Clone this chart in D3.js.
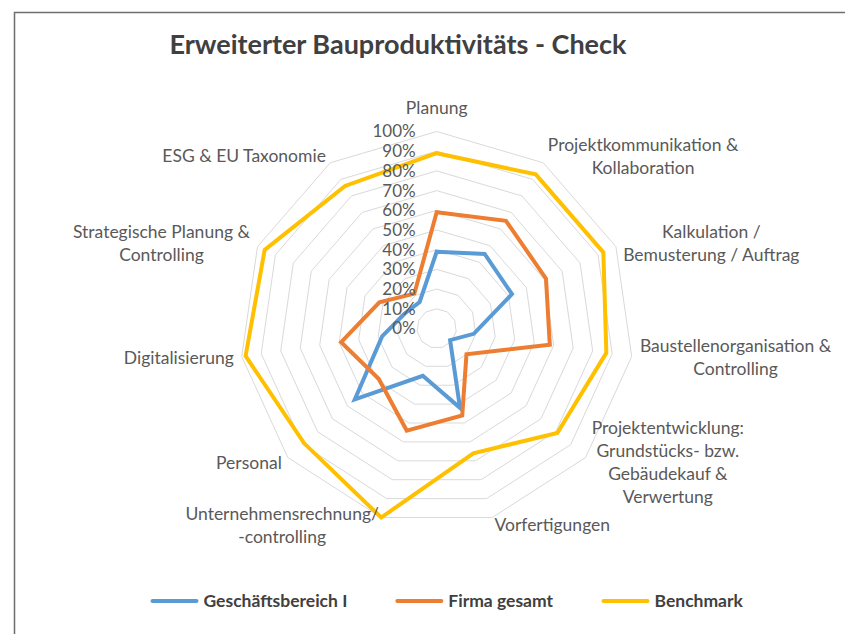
<!DOCTYPE html>
<html>
<head>
<meta charset="utf-8">
<script src="https://cdn.jsdelivr.net/npm/d3@7"></script>
<style>
  html, body { margin: 0; padding: 0; background: #fff; }
  svg { display: block; font-family: Lato, "Open Sans", sans-serif; }
</style>
</head>
<body>
<div id="chart"></div>
<script>
    // categories of the radar, "\n" splits a label into lines
    const categories = [
        "Planung",
        "Projektkommunikation &\nKollaboration",
        "Kalkulation /\nBemusterung / Auftrag",
        "Baustellenorganisation &\nControlling",
        "Projektentwicklung:\nGrundstücks- bzw.\nGebäudekauf &\nVerwertung",
        "Vorfertigungen",
        "Unternehmensrechnung/\n-controlling",
        "Personal",
        "Digitalisierung",
        "Strategische Planung &\nControlling",
        "ESG & EU Taxonomie"
    ];

    const tickValues = [0, 0.1, 0.2, 0.3, 0.4, 0.5, 0.6, 0.7, 0.8, 0.9, 1.0];
    const tickLabels = ["0%", "10%", "20%", "30%", "40%", "50%", "60%", "70%", "80%", "90%", "100%"];

    const seriesNames = ["Geschäftsbereich I", "Firma gesamt", "Benchmark"];
    const geschaeftsbereich = [0.39, 0.45, 0.42, 0.19, 0.09, 0.42, 0.25, 0.55, 0.28, 0.18, 0.16];
    const firmaGesamt      = [0.59, 0.65, 0.61, 0.58, 0.20, 0.46, 0.54, 0.39, 0.49, 0.32, 0.21];
    const benchmark        = [0.89, 0.93, 0.93, 0.87, 0.81, 0.66, 1.00, 0.89, 0.98, 0.96, 0.86];
    const seriesColors = ["#5B9BD5", "#ED7D31", "#FFC000"];

    const width = 845;
    const height = 634;
    const cx = 436.7, cy = 328.5;
    const radius = 197;
    const labelGap = 8;
    const lineHeight = 23;

    const r = d3.scaleLinear().domain([0, 1]).range([0, radius]);
    const angle = d3.scaleLinear()
        .domain([0, categories.length])
        .range([0, 2 * Math.PI]);

    const svg = d3.select("#chart").append("svg")
        .attr("width", width)
        .attr("height", height);

    svg.append("rect").attr("width", width).attr("height", height).attr("fill", "#fff");

    // frame of the pasted picture
    svg.append("path")
        .attr("d", `M14.5,${height} V12.5 H${width}`)
        .attr("fill", "none")
        .attr("stroke", "#6e6e6e")
        .attr("stroke-width", 1.5);

    svg.append("text")
        .attr("x", 398)
        .attr("y", 54)
        .attr("text-anchor", "middle")
        .attr("font-size", 27)
        .attr("font-weight", "bold")
        .attr("fill", "#404040")
        .text("Erweiterter Bauproduktivitäts - Check");

    const g = svg.append("g").attr("transform", `translate(${cx},${cy})`);

    const idx = d3.range(categories.length);

    // grid rings
    const ring = d3.lineRadial()
        .angle(i => angle(i))
        .curve(d3.curveLinearClosed);

    g.append("g")
        .selectAll("path")
        .data(tickValues.filter(t => t > 0))
        .join("path")
        .attr("d", t => ring.radius(() => r(t))(idx))
        .attr("fill", "none")
        .attr("stroke", "#d9d9d9")
        .attr("stroke-width", 1);

    // series
    const allSeries = [geschaeftsbereich, firmaGesamt, benchmark];
    const seriesLine = d3.lineRadial()
        .angle((d, i) => angle(i))
        .radius(d => r(d))
        .curve(d3.curveLinearClosed);

    g.append("g")
        .selectAll("path")
        .data(allSeries)
        .join("path")
        .attr("d", d => seriesLine(d))
        .attr("fill", "none")
        .attr("stroke", (d, i) => seriesColors[i])
        .attr("stroke-width", 4)
        .attr("stroke-linejoin", "miter");

    // tick labels along the first axis
    g.append("g")
        .selectAll("text")
        .data(tickValues)
        .join("text")
        .attr("x", -21)
        .attr("y", t => -r(t))
        .attr("dy", "0.35em")
        .attr("text-anchor", "end")
        .attr("font-size", 17)
        .attr("fill", "#595959")
        .text((t, i) => tickLabels[i]);

    // category labels
    const labels = g.append("g")
        .selectAll("g")
        .data(categories)
        .join("g");

    labels.each(function (c, i) {
        const lines = c.split("\n");
        const grp = d3.select(this);
        const txt = grp.append("text")
            .attr("font-size", 17.5)
            .attr("fill", "#595959")
            .attr("text-anchor", "middle");
        lines.forEach((l, k) => {
            txt.append("tspan")
                .attr("x", 0)
                .attr("y", (k - (lines.length - 1) / 2) * lineHeight)
                .attr("dy", "0.35em")
                .text(l);
        });
        const w = txt.node().getBBox().width;
        const a = angle(i);
        const px = Math.sin(a) * (radius + labelGap);
        const py = -Math.cos(a) * (radius + labelGap);
        let x = px, y = py;
        if (Math.abs(Math.sin(a)) < 0.05) {
            y = py - 16;
        } else {
            x = px + Math.sign(Math.sin(a)) * w / 2;
        }
        grp.attr("transform", `translate(${x},${y})`);
    });

    // legend
    const legend = svg.append("g").attr("transform", "translate(0,601)");
    const items = legend.selectAll("g")
        .data(seriesNames)
        .join("g");

    items.append("line")
        .attr("x1", 0).attr("x2", 44)
        .attr("stroke", (d, i) => seriesColors[i])
        .attr("stroke-width", 4)
        .attr("stroke-linecap", "round");

    items.append("text")
        .attr("x", 51)
        .attr("dy", "0.35em")
        .attr("font-size", 17.5)
        .attr("font-weight", "bold")
        .attr("fill", "#404040")
        .text(d => d);

    const itemWidths = [];
    items.each(function () { itemWidths.push(this.getBBox().width); });
    const legendGap = 50;
    const total = d3.sum(itemWidths) + legendGap * (itemWidths.length - 1);
    let lx = 448 - total / 2;
    items.attr("transform", (d, i) => {
        const t = `translate(${lx},0)`;
        lx += itemWidths[i] + legendGap;
        return t;
    });
</script>
</body>
</html>
